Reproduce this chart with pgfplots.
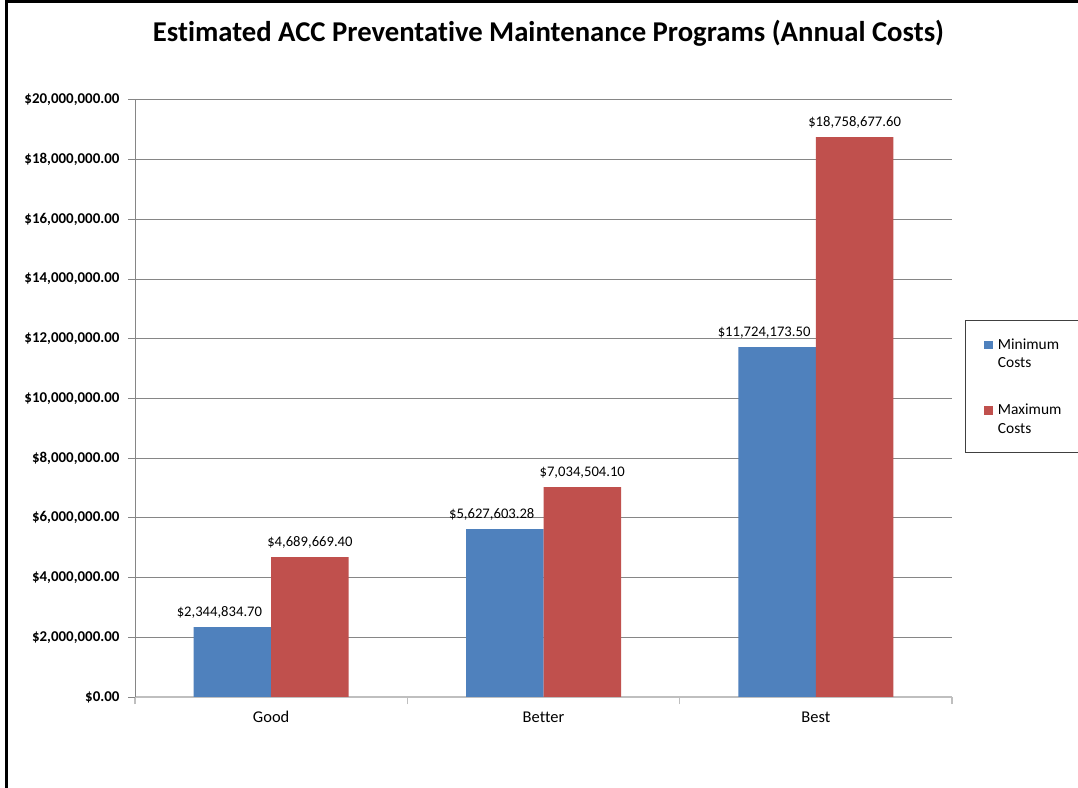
\documentclass[border=0pt]{standalone}
\usepackage{pgfplots}
\pgfplotsset{compat=1.18}
\usepackage{fontspec}
\setmainfont{Carlito}[Ligatures=NoCommon]
\definecolor{bblue}{HTML}{4F81BD}
\definecolor{bred}{HTML}{C0504D}
\definecolor{gridgray}{HTML}{868686}
\definecolor{axgray}{HTML}{BFBFBF}
\begin{document}
\begin{tikzpicture}
\useasboundingbox (0,0) rectangle (1078bp,788bp);
\fill[white] (0,0) rectangle (1078bp,788bp);
\draw[line width=3bp] (6.5bp,0) -- (6.5bp,786.5bp) -- (1078bp,786.5bp);
\node[anchor=base, font=\fontsize{28.8}{32}\selectfont\bfseries, inner sep=0pt] at (548.5bp,746bp) {Estimated ACC Preventative Maintenance Programs (Annual Costs)};
\begin{axis}[
  at={(135bp,91bp)}, anchor=south west,
  scale only axis, width=817bp, height=597bp,
  xmin=-0.5, xmax=2.5, ymin=0, ymax=20000000,
  scaled y ticks=false,
  ybar=0pt, bar width=77.5bp,
  legend image code/.code={\fill[#1] (0bp,18.6bp) rectangle (8.5bp,27.1bp);},
  axis lines=left,
  axis line style={-},
  x axis line style={axgray, line width=1.2bp},
  y axis line style={gridgray, line width=1bp},
  tick align=outside,
  major tick length=7bp,
  tick style={gridgray, line width=1bp},
  xtick={-0.5,0.5,1.5,2.5},
  xticklabels={},
  x tick style={axgray, line width=1.2bp},
  extra x ticks={0,1,2},
  extra x tick labels={Good,Better,Best},
  extra x tick style={major tick length=0pt, grid=none},
  x tick label style={font=\fontsize{16.5}{18}\selectfont, yshift=-11bp},
  ytick={0,2000000,4000000,6000000,8000000,10000000,12000000,14000000,16000000,18000000,20000000},
  yticklabels={{\$0.00},{\$2,000,000.00},{\$4,000,000.00},{\$6,000,000.00},{\$8,000,000.00},{\$10,000,000.00},{\$12,000,000.00},{\$14,000,000.00},{\$16,000,000.00},{\$18,000,000.00},{\$20,000,000.00}},
  y tick label style={font=\fontsize{15}{17}\selectfont\bfseries, xshift=-5bp},
  ymajorgrids,
  grid style={gridgray, line width=1bp},
  point meta=explicit symbolic,
  nodes near coords,
  every node near coord/.append style={font=\fontsize{14.7}{16}\selectfont, anchor=base, yshift=11bp, inner sep=0pt, text=black},
  legend style={at={(rel axis cs:1.0159,0.6315)}, anchor=north west, draw=black!75, line width=1bp,
    font=\fontsize{15.5}{18.6}\selectfont, nodes={align=left, inner sep=0pt},
    inner xsep=19bp, inner ysep=18bp, row sep=35bp, column sep=5bp, cells={anchor=base west}},
]
\addplot[fill=bblue, draw=none, every node near coord/.append style={xshift=-13bp}] coordinates {
  (0,2344834.70) [\$2,344,834.70]
  (1,5627603.28) [\$5,627,603.28]
  (2,11724173.50) [\$11,724,173.50]
};
\addlegendentry{Minimum\\\makebox[85bp][l]{Costs}}
\addplot[fill=bred, draw=none] coordinates {
  (0,4689669.40) [\$4,689,669.40]
  (1,7034504.10) [\$7,034,504.10]
  (2,18758677.60) [\$18,758,677.60]
};
\addlegendentry{Maximum\\\makebox[85bp][l]{Costs}}
\end{axis}
\end{tikzpicture}
\end{document}
